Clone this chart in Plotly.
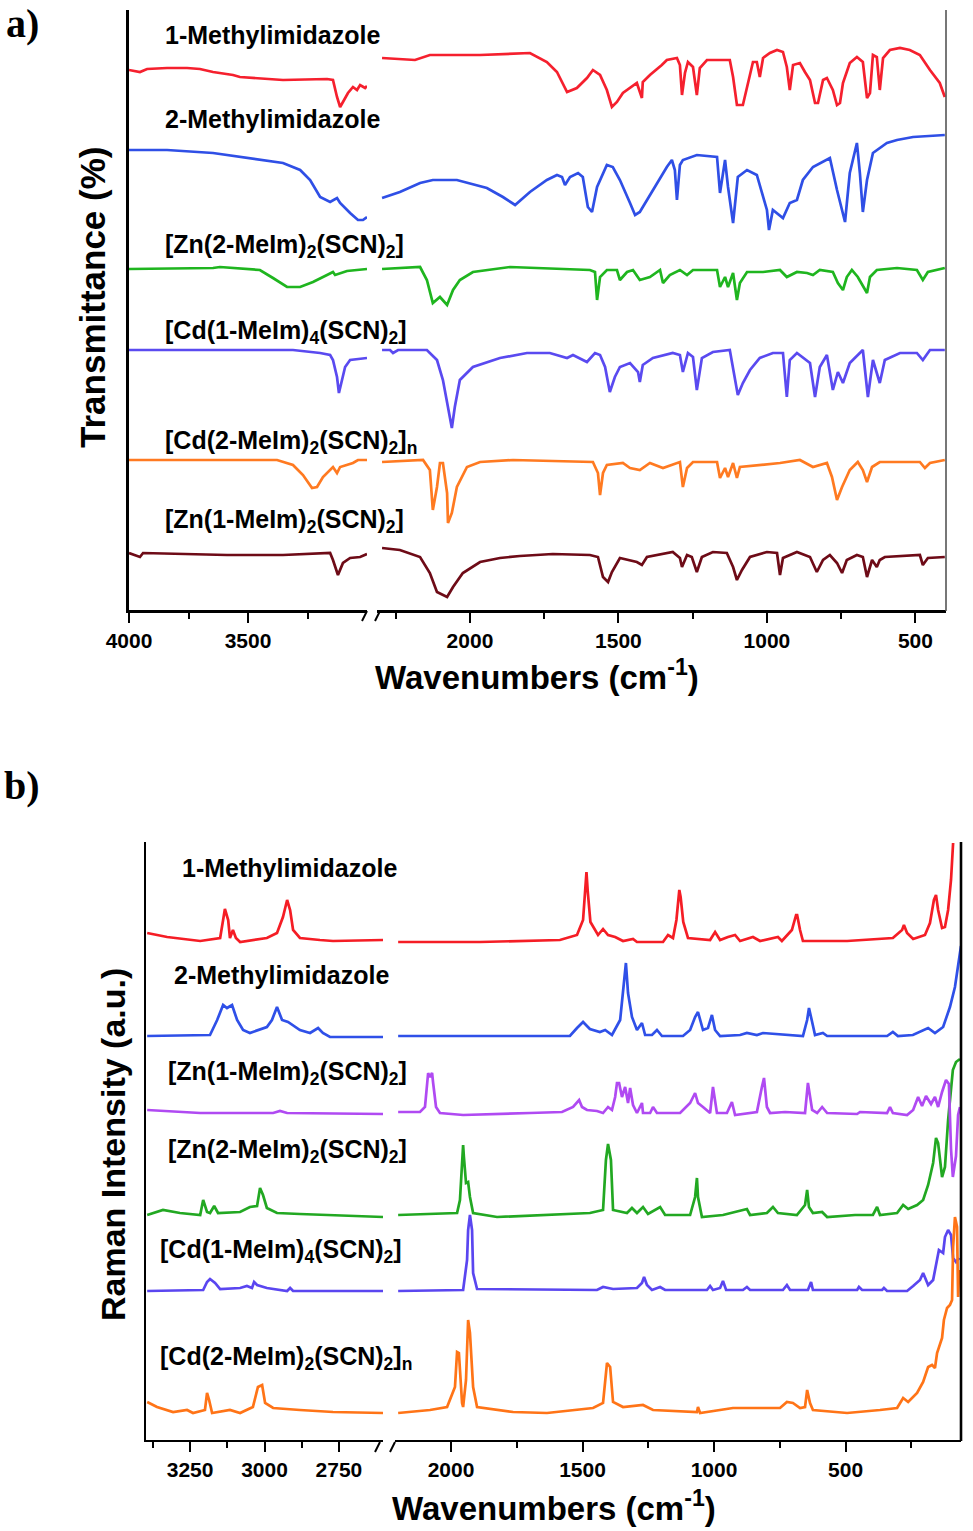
import plotly.graph_objects as go

W, H = 973, 1531

# ---------------- (a) FTIR : (wavenumber cm-1, stacked transmittance a.u.) ----------------
ir_1meim = [(4000,540),(3954,538),(3924,541),(3840,542),(3756,542),(3702,541),(3647,538),(3563,535),(3534,533),
            (3353,530),(3168,531),(3143,530),(3126,513),(3113,503),(3101,508),(3080,517),(3059,523),(3042,520),
            (3029,525),(3008,522),(3000,524),
            (2296,552),(2185,550),(2135,555),(1966,555),(1798,557),(1741,548),(1707,538),(1673,518),(1640,522),
            (1606,532),(1586,540),(1562,535),(1539,520),(1522,503),(1505,508),(1485,517),(1438,527),(1421,512),
            (1418,528),(1394,535),(1354,545),(1337,550),(1303,552),(1293,545),(1286,515),(1276,537),(1266,548),
            (1249,543),(1236,515),(1226,542),(1202,550),(1125,550),(1114,533),(1101,505),(1081,505),(1067,523),
            (1047,548),(1034,548),(1024,533),(1013,552),(990,557),(966,560),(946,558),(933,543),(923,520),
            (912,545),(889,547),(872,538),(855,530),(838,507),(828,507),(811,530),(798,532),(778,520),(764,505),
            (754,507),(744,527),(721,547),(697,553),(677,548),(663,512),(653,517),(643,555),(630,553),(620,520),
            (609,552),(586,560),(552,562),(519,560),(485,555),(451,540),(418,527),(401,513)]

ir_2meim = [(4000,460),(3840,460),(3647,457),(3492,452),(3353,447),(3281,440),(3239,430),(3197,413),(3155,408),
            (3126,412),(3113,407),(3071,397),(3038,390),(3017,390),(3000,393),
            (2296,412),(2236,418),(2168,427),(2125,430),(2044,430),(1943,422),(1889,413),(1848,405),(1798,418),
            (1741,430),(1707,435),(1690,433),(1680,425),(1663,433),(1636,437),(1620,433),(1603,403),(1589,398),
            (1572,423),(1539,445),(1519,443),(1495,430),(1461,407),(1444,395),(1428,398),(1404,410),(1370,427),
            (1337,443),(1320,450),(1310,440),(1303,410),(1293,445),(1283,450),(1236,455),(1168,453),(1158,417),
            (1141,450),(1131,423),(1114,387),(1098,433),(1067,440),(1034,435),(1000,400),(993,380),(980,400),
            (946,392),(923,407),(899,410),(879,430),(845,443),(788,452),(764,420),(737,388),(721,437),(697,467),
            (687,437),(677,398),(663,430),(643,457),(596,467),(562,470),(508,473),(401,475)]

ir_zn2meim = [(4000,341),(3647,342),(3618,343),(3450,340),(3395,332),(3336,323),(3281,323),(3227,328),(3168,335),
              (3143,338),(3134,335),(3113,337),(3084,339),(3000,341),
              (2296,341),(2168,343),(2145,330),(2125,307),(2101,313),(2077,305),(2057,320),(2034,330),(1990,338),
              (1865,343),(1596,340),(1579,338),(1572,310),(1562,333),(1539,340),(1505,340),(1495,330),(1471,338),
              (1451,340),(1428,330),(1394,333),(1360,340),(1350,327),(1327,335),(1293,340),(1269,335),(1249,340),
              (1168,340),(1158,323),(1141,333),(1131,323),(1114,337),(1101,310),(1091,327),(1067,338),(1013,338),
              (956,340),(933,333),(899,338),(865,337),(845,335),(822,340),(778,338),(761,327),(744,320),(731,333),
              (714,340),(694,333),(663,317),(653,333),(630,340),(562,342),(495,340),(475,330),(458,338),(401,342)]

ir_cd1meim = [(4000,260),(3311,260),(3197,257),(3155,255),(3143,250),(3126,233),(3118,217),(3105,230),(3092,243),
              (3071,250),(3000,252),
              (2296,260),(2269,260),(2259,257),(2242,260),(2145,260),(2111,250),(2091,230),(2074,203),(2061,182),
              (2051,203),(2034,230),(1990,243),(1899,252),(1808,257),(1731,257),(1673,252),(1653,255),(1606,248),
              (1579,257),(1562,255),(1545,243),(1529,218),(1512,233),(1495,243),(1461,247),(1434,238),(1428,228),
              (1418,245),(1384,252),(1317,257),(1293,255),(1283,238),(1266,257),(1249,253),(1236,220),(1219,252),
              (1182,258),(1125,260),(1114,243),(1098,215),(1081,227),(1057,240),(1024,252),(980,257),(946,257),
              (933,213),(923,250),(899,257),(855,247),(838,213),(822,243),(798,255),(778,220),(761,238),(744,227),
              (721,247),(677,260),(660,213),(643,250),(620,227),(603,250),(552,257),(495,257),(475,250),(451,260),
              (401,260)]

ir_cd2meim = [(4000,150),(3378,150),(3311,145),(3269,135),(3231,122),(3210,123),(3185,133),(3143,143),(3126,137),
              (3113,143),(3059,147),(3038,150),(3000,150),
              (2296,148),(2158,150),(2135,140),(2125,100),(2111,123),(2101,147),(2091,147),(2077,117),(2074,87),
              (2061,97),(2044,123),(2010,143),(1966,148),(1855,150),(1586,148),(1569,137),(1562,115),(1552,137),
              (1539,145),(1485,147),(1461,142),(1428,140),(1394,147),(1350,142),(1293,148),(1283,123),(1269,142),
              (1249,148),(1168,148),(1158,132),(1141,142),(1131,133),(1114,147),(1101,132),(1091,143),(1013,145),
              (956,147),(889,150),(845,143),(798,147),(781,133),(764,110),(747,123),(721,140),(694,148),(677,140),
              (663,128),(646,143),(620,148),(485,148),(468,142),(451,147),(401,150)]

ir_zn1meim = [(4000,57),(3954,53),(3941,57),(3588,55),(3353,55),(3155,57),(3143,50),(3122,35),(3101,47),(3071,52),
              (3029,53),(3000,56),
              (2296,62),(2236,60),(2168,53),(2135,37),(2111,18),(2077,13),(2057,23),(2024,37),(1966,48),(1899,52),
              (1832,54),(1721,56),(1596,55),(1569,53),(1552,33),(1535,28),(1522,38),(1495,52),(1438,48),(1421,45),
              (1404,53),(1317,58),(1293,52),(1286,43),(1269,55),(1253,53),(1236,38),(1219,53),(1182,58),(1135,57),
              (1114,43),(1101,30),(1084,40),(1057,53),(1000,58),(966,57),(956,35),(946,52),(899,58),(855,53),
              (832,38),(811,50),(788,55),(764,47),(747,37),(731,50),(697,55),(677,53),(663,33),(646,50),(630,43),
              (620,50),(603,53),(485,55),(475,45),(458,52),(401,53)]

# ---------------- (b) Raman : (wavenumber cm-1, stacked intensity a.u.) ----------------
ra_1meim = [(3394,507),(3327,503),(3216,499),(3149,502),(3139,520),(3133,531),(3122,520),(3116,502),(3106,510),
            (3096,502),(3082,498),(2992,502),(2958,507),(2938,523),(2924,540),(2914,530),(2904,510),(2881,502),
            (2814,500),(2770,499),(2602,500),
            (2201,498),(1890,498),(1586,500),(1521,505),(1498,520),(1490,548),(1485,568),(1480,548),(1470,518),
            (1441,505),(1422,511),(1403,505),(1376,503),(1346,499),(1308,501),(1293,498),(1194,498),(1175,505),
            (1156,502),(1143,520),(1136,545),(1132,550),(1127,543),(1117,518),(1099,502),(1015,500),(996,508),
            (977,500),(947,503),(920,505),(901,499),(852,503),(825,499),(757,503),(742,499),(704,510),(688,525),
            (684,525),(673,510),(662,499),(494,499),(320,502),(285,510),(278,515),(266,507),(243,501),(198,505),
            (179,517),(164,540),(156,545),(148,530),(133,512),(122,513),(110,530),(99,560),(91,597)]

ra_2meim = [(3394,404),(3183,405),(3159,420),(3139,435),(3126,432),(3109,435),(3092,420),(3072,410),(3049,407),
            (2992,413),(2975,420),(2958,433),(2941,420),(2921,418),(2881,410),(2847,407),(2820,412),(2804,407),
            (2780,403),(2602,403),
            (2201,404),(1890,404),(1548,404),(1521,412),(1498,418),(1472,411),(1434,408),(1414,410),(1388,405),
            (1357,420),(1342,463),(1335,477),(1327,447),(1312,423),(1293,410),(1274,417),(1262,405),(1236,405),
            (1217,410),(1198,404),(1118,404),(1091,410),(1072,423),(1061,428),(1042,410),(1023,412),(1008,425),
            (996,410),(977,404),(901,405),(875,407),(837,405),(814,407),(662,404),(646,420),(639,432),(627,418),
            (616,405),(586,407),(570,404),(342,404),(320,408),(301,404),(244,405),(186,412),(160,407),(129,413),
            (103,433),(84,453),(72,473),(61,494)]

ra_zn1meim = [(3394,330),(3216,327),(2971,327),(2948,329),(2924,327),(2602,326),
              (2201,328),(2118,328),(2099,333),(2091,360),(2087,367),(2080,363),(2072,367),(2068,357),(2057,333),
              (2042,327),(1954,325),(1700,327),(1578,328),(1536,333),(1521,338),(1513,340),(1502,333),(1483,330),
              (1445,329),(1422,327),(1403,333),(1388,330),(1376,343),(1369,357),(1361,357),(1350,343),(1338,353),
              (1327,337),(1319,352),(1308,335),(1293,327),(1274,337),(1270,327),(1243,327),(1232,333),(1217,327),
              (1129,327),(1091,337),(1072,347),(1061,337),(1042,333),(1015,327),(1004,353),(989,327),(951,327),
              (932,338),(920,325),(837,328),(818,353),(810,362),(799,333),(787,327),(730,328),(654,327),(643,357),
              (627,330),(608,327),(589,333),(570,327),(456,326),(445,328),(342,327),(331,333),(320,327),(266,325),
              (243,330),(224,343),(209,334),(194,344),(175,336),(160,343),(148,333),(133,348),(118,360),(107,356),
              (99,291),(92,263),(80,284),(72,325),(65,333)]

ra_zn2meim = [(3394,225),(3341,230),(3284,227),(3216,225),(3206,240),(3193,228),(3183,227),(3169,234),(3156,227),
              (3082,228),(3049,233),(3025,234),(3015,252),(3005,245),(2992,232),(2958,227),(2881,226),(2602,223),
              (2201,225),(1977,227),(1966,240),(1958,283),(1954,295),(1951,283),(1943,257),(1935,258),(1928,243),
              (1916,227),(1825,223),(1472,227),(1422,230),(1411,280),(1403,296),(1392,280),(1384,230),(1331,227),
              (1312,232),(1293,227),(1270,233),(1251,226),(1205,233),(1186,225),(1091,225),(1072,243),(1065,262),
              (1061,243),(1046,223),(966,225),(875,231),(863,225),(799,227),(776,233),(757,227),(685,225),(654,235),
              (646,250),(639,233),(624,227),(589,228),(570,223),(464,225),(396,225),(380,233),(369,225),(304,227),
              (281,235),(262,231),(228,235),(205,240),(186,255),(167,277),(156,302),(148,297),(133,263),(122,273),
              (110,320),(92,370),(80,378),(65,381)]

ra_cd1meim = [(3394,149),(3206,150),(3193,158),(3183,161),(3166,157),(3149,151),(3082,152),(3059,154),(3042,152),
              (3035,158),(3025,155),(2992,152),(2924,149),(2914,152),(2904,149),(2602,149),
              (2201,149),(1954,150),(1939,180),(1935,210),(1928,225),(1920,210),(1916,167),(1901,151),(1445,150),
              (1422,153),(1384,151),(1293,152),(1274,157),(1266,163),(1255,155),(1236,150),(1205,153),(1186,150),
              (1027,150),(1015,154),(1004,150),(977,152),(966,159),(954,150),(890,150),(875,153),(863,150),
              (738,150),(723,155),(711,150),(643,150),(631,158),(624,150),(456,150),(449,153),(437,150),(361,150),
              (354,152),(342,149),(266,149),(243,154),(217,160),(205,167),(186,155),(167,160),(152,183),(145,190),
              (129,187),(122,203),(110,210),(99,205),(91,182),(80,178),(68,182)]

ra_cd2meim = [(3394,38),(3361,33),(3307,28),(3260,30),(3240,27),(3200,30),(3193,47),(3186,40),(3176,27),(3116,30),
              (3082,27),(3039,33),(3022,53),(3008,55),(2998,37),(2971,32),(2881,30),(2770,28),(2602,27),
              (2201,27),(2080,30),(2015,33),(1985,53),(1977,88),(1970,87),(1958,37),(1954,33),(1943,60),(1935,120),
              (1928,107),(1916,53),(1901,33),(1764,28),(1635,27),(1460,32),(1422,37),(1407,77),(1395,73),(1384,38),
              (1346,33),(1270,35),(1232,30),(1065,28),(1061,33),(1053,27),(928,32),(749,32),(723,38),(700,37),
              (673,32),(654,33),(646,50),(635,37),(624,30),(494,27),(369,30),(304,32),(281,42),(262,38),(228,47),
              (205,58),(186,73),(171,75),(160,72),(152,87),(133,102),(126,120),(114,132),(103,135),(95,140),
              (91,193),(84,223),(76,213),(72,143),(68,170)]

# labels
ir_series = [
    ("1-Methylimidazole", ir_1meim, "#f5202e"),
    ("2-Methylimidazole", ir_2meim, "#2f4fe6"),
    ("[Zn(2-MeIm)<sub>2</sub>(SCN)<sub>2</sub>]", ir_zn2meim, "#1fb51f"),
    ("[Cd(1-MeIm)<sub>4</sub>(SCN)<sub>2</sub>]", ir_cd1meim, "#5a4af0"),
    ("[Cd(2-MeIm)<sub>2</sub>(SCN)<sub>2</sub>]<sub>n</sub>", ir_cd2meim, "#ff7a21"),
    ("[Zn(1-MeIm)<sub>2</sub>(SCN)<sub>2</sub>]", ir_zn1meim, "#6e0b17"),
]
ra_series = [
    ("1-Methylimidazole", ra_1meim, "#f51d25"),
    ("2-Methylimidazole", ra_2meim, "#2f50e8"),
    ("[Zn(2-MeIm)<sub>2</sub>(SCN)<sub>2</sub>]", ra_zn2meim, "#22a822"),
    ("[Zn(1-MeIm)<sub>2</sub>(SCN)<sub>2</sub>]", ra_zn1meim, "#b04af2"),
    ("[Cd(1-MeIm)<sub>4</sub>(SCN)<sub>2</sub>]", ra_cd1meim, "#5a46f0"),
    ("[Cd(2-MeIm)<sub>2</sub>(SCN)<sub>2</sub>]<sub>n</sub>", ra_cd2meim, "#ff7417"),
]

ir_major_left, ir_minor_left = [4000, 3500], [3750, 3250]
ir_major_right, ir_minor_right = [2000, 1500, 1000, 500], [2250, 1750, 1250, 750]
ra_major_left, ra_minor_left = [3250, 3000, 2750], [3375, 3125, 2875]
ra_major_right, ra_minor_right = [2000, 1500, 1000, 500], [1750, 1250, 750, 250]

# ---------------- figure ----------------
def fx(p):
    return p / W

def fy(p):
    return 1 - p / H

SANS = "Liberation Sans, Arial, sans-serif"
fig = go.Figure()

def add_spectrum(data, color, xl, xr, yax):
    left = [(x, v) for x, v in data if x > 2450]
    right = [(x, v) for x, v in data if x < 2450]
    for seg, xa in ((left, xl), (right, xr)):
        fig.add_trace(go.Scatter(x=[p[0] for p in seg], y=[p[1] for p in seg], mode="lines",
                                 line=dict(color=color, width=2.7), xaxis=xa, yaxis=yax,
                                 showlegend=False, hoverinfo="skip"))

for name, d, c in ir_series:
    add_spectrum(d, c, "x", "x2", "y")
for name, d, c in ra_series:
    add_spectrum(d, c, "x3", "x4", "y2")

def xaxis(domain, rng, anchor, major, minor, lw):
    return dict(domain=[fx(domain[0]), fx(domain[1])], range=rng, anchor=anchor,
                showgrid=False, zeroline=False, showline=True, linecolor="black", linewidth=lw,
                ticks="outside", ticklen=10, tickwidth=2, tickcolor="black",
                tickmode="array", tickvals=major, ticktext=[str(v) for v in major],
                tickfont=dict(family=SANS, size=21, color="black", weight="bold"),
                automargin=False,
                minor=dict(tickmode="array", tickvals=minor, ticks="outside", ticklen=6,
                           tickwidth=2, tickcolor="black"))

def yaxis(domain, rng, anchor, lw):
    return dict(domain=[fy(domain[1]), fy(domain[0])], range=rng, anchor=anchor,
                showgrid=False, zeroline=False, showline=True, linecolor="black", linewidth=lw,
                ticks="", showticklabels=False, automargin=False)

fig.update_layout(
    width=W, height=H, autosize=False, margin=dict(l=0, r=0, t=0, b=0, pad=0, autoexpand=False),
    paper_bgcolor="white", plot_bgcolor="rgba(0,0,0,0)",
    xaxis=xaxis((129, 367), [4000, 3000], "y", ir_major_left, ir_minor_left, 2.5),
    xaxis2=xaxis((377, 946), [2313, 397], "y", ir_major_right, ir_minor_right, 2.5),
    xaxis3=xaxis((146, 383), [3398, 2602], "y2", ra_major_left, ra_minor_left, 2),
    xaxis4=xaxis((395, 961), [2213, 61], "y2", ra_major_right, ra_minor_right, 2),
    yaxis=yaxis((10, 610), [0, 600], "x", 2.5),
    yaxis2=yaxis((842, 1440), [0, 598], "x3", 1.6),
)

shapes = []
def pline(x0, y0, x1, y1, color="black", width=2):
    shapes.append(dict(type="line", xref="paper", yref="paper", x0=fx(x0), y0=fy(y0), x1=fx(x1), y1=fy(y1),
                       line=dict(color=color, width=width)))

pline(946, 10, 946, 611, "#555555", 1.6)
pline(961, 842, 961, 1441, "black", 2.6)
# axis break marks
pline(362, 621, 367, 611); pline(375, 621, 380, 611)
pline(375, 1452, 380, 1442); pline(390, 1452, 395, 1442)
fig.update_layout(shapes=shapes)

ann = []
def text(x, y, s, size, anchor="left", angle=0, family=SANS):
    ann.append(dict(x=fx(x), y=fy(y), xref="paper", yref="paper", text=s, showarrow=False,
                    xanchor=anchor, yanchor="middle", textangle=angle,
                    font=dict(family=family, size=size, color="black", weight="bold")))

ir_label_pos = [(163, 35), (163, 119), (163, 246), (163, 332), (163, 442), (163, 521)]
ra_label_pos = [(180, 868), (172, 975), (166, 1151), (166, 1073), (158, 1251), (158, 1358)]
for (name, _, _), (x, y) in zip(ir_series, ir_label_pos):
    text(x, y, name, 25)
for (name, _, _), (x, y) in zip(ra_series, ra_label_pos):
    text(x, y, name, 25)

text(93, 298, "Transmittance (%)", 35, "center", -90)
text(537, 675, "Wavenumbers (cm<sup>-1</sup>)", 33, "center")
text(113, 1145, "Raman Intensity (a.u.)", 34, "center", -90)
text(554, 1506, "Wavenumbers (cm<sup>-1</sup>)", 33, "center")
text(22, 24, "a)", 40, "center", 0, "Liberation Serif, Times New Roman, serif")
text(22, 785, "b)", 40, "center", 0, "Liberation Serif, Times New Roman, serif")
fig.update_layout(annotations=ann)

fig.write_html("out.html", config={"responsive": False, "displayModeBar": False},
               post_script="document.body.style.margin='0px';document.body.style.overflow='hidden';")
